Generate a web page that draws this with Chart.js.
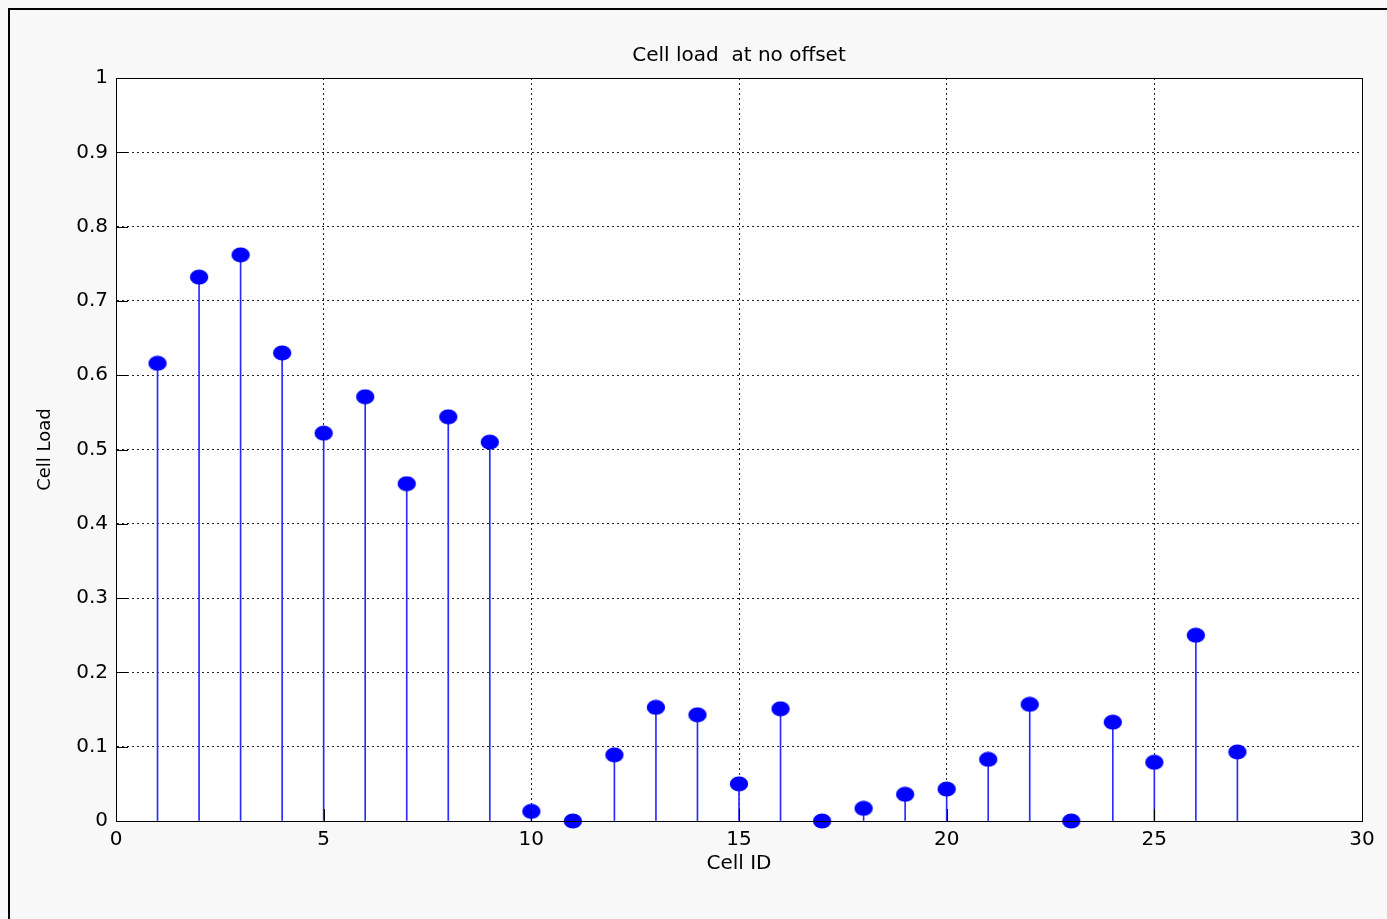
<!DOCTYPE html>
<html>
<head>
<meta charset="utf-8">
<script src="https://cdn.jsdelivr.net/npm/chart.js@4.4.1/dist/chart.umd.min.js"></script>
<style>
  html, body { margin: 0; padding: 0; background: #f8f8f8; }
  #wrap { position: absolute; left: 0; top: 0; width: 1387px; height: 919px; }
</style>
</head>
<body>
<div id="wrap"><canvas id="c" width="1387" height="919"></canvas></div>
<script>
// ---- data ----
const cellIds = [1,2,3,4,5,6,7,8,9,10,11,12,13,14,15,16,17,18,19,20,21,22,23,24,25,26,27];
const cellLoad = [0.616,0.732,0.762,0.630,0.522,0.571,0.454,0.544,0.510,0.013,0.000,0.089,0.153,0.143,0.050,0.151,0.000,0.017,0.036,0.043,0.083,0.157,0.000,0.133,0.079,0.250,0.093];
const xTicks = [0,5,10,15,20,25,30];
const yTicks = [0,0.1,0.2,0.3,0.4,0.5,0.6,0.7,0.8,0.9,1];
const titleText = 'Cell load  at no offset';
const xLabel = 'Cell ID';
const yLabel = 'Cell Load';

const points = cellIds.map((id, i) => ({ x: id, y: cellLoad[i] }));

// ellipse marker
const marker = document.createElement('canvas');
marker.width = 20; marker.height = 16;
{
  const m = marker.getContext('2d');
  m.fillStyle = '#0000ff';
  m.beginPath();
  m.ellipse(10, 8, 9.2, 7.4, 0, 0, Math.PI * 2);
  m.fill();
}

const FONT = "'DejaVu Sans', Verdana, sans-serif";
const FSIZE = 20;

const framePlugin = {
  id: 'frame',
  beforeDraw(chart) {
    const ctx = chart.ctx;
    const a = chart.chartArea;
    ctx.save();
    ctx.fillStyle = '#f8f8f8';
    ctx.fillRect(0, 0, chart.width, chart.height);
    ctx.strokeStyle = '#000';
    ctx.lineWidth = 2;
    ctx.beginPath();
    ctx.moveTo(9, chart.height + 5);
    ctx.lineTo(9, 9);
    ctx.lineTo(chart.width + 5, 9);
    ctx.stroke();
    ctx.fillStyle = '#ffffff';
    ctx.fillRect(a.left, a.top, a.right - a.left, a.bottom - a.top);
    // title centred over the plot area
    ctx.fillStyle = '#000';
    ctx.font = FSIZE + 'px ' + FONT;
    ctx.textAlign = 'center';
    ctx.textBaseline = 'middle';
    ctx.fillText(titleText, (a.left + a.right) / 2, 56);
    ctx.restore();
  },
  afterDatasetsDraw(chart) {
    const ctx = chart.ctx;
    const a = chart.chartArea;
    const xs = chart.scales.x, ys = chart.scales.y;
    ctx.save();
    ctx.strokeStyle = '#000';
    ctx.lineWidth = 1;
    ctx.beginPath();
    ctx.rect(Math.round(a.left) + 0.5, Math.round(a.top) + 0.5, Math.round(a.right - a.left), Math.round(a.bottom - a.top));
    const tl = 12;
    xTicks.forEach(v => {
      const px = Math.round(xs.getPixelForValue(v)) + 0.5;
      ctx.moveTo(px, a.bottom); ctx.lineTo(px, a.bottom - tl);
    });
    yTicks.forEach(v => {
      const py = Math.round(ys.getPixelForValue(v)) + 0.5;
      ctx.moveTo(a.left, py); ctx.lineTo(a.left + tl, py);
    });
    ctx.stroke();
    ctx.restore();
  }
};

new Chart(document.getElementById('c'), {
  data: {
    datasets: [
      {
        type: 'scatter',
        data: points,
        pointStyle: marker,
        pointRadius: 9,
        pointHoverRadius: 9,
        clip: false,
        order: 0
      },
      {
        type: 'bar',
        data: points,
        backgroundColor: '#2a2aff',
        borderWidth: 0,
        barThickness: 1,
        order: 1
      }
    ]
  },
  options: {
    responsive: false,
    animation: false,
    devicePixelRatio: 1,
    layout: { padding: { left: 0, right: 25, top: 78, bottom: 0 } },
    plugins: {
      legend: { display: false },
      tooltip: { enabled: false },
      title: { display: false }
    },
    scales: {
      x: {
        type: 'linear',
        min: 0, max: 30,
        offset: false,
        afterBuildTicks: s => { s.ticks = xTicks.map(v => ({ value: v })); },
        afterFit: s => { s.height = 98; },
        ticks: {
          color: '#000',
          font: { family: FONT, size: FSIZE },
          padding: 7,
          maxRotation: 0,
          callback: v => String(v)
        },
        grid: { color: '#222', lineWidth: 1, drawTicks: false, offset: false },
        border: { display: true, color: '#000', width: 1, dash: [2, 3] },
        title: {
          display: true,
          text: xLabel,
          color: '#000',
          font: { family: FONT, size: FSIZE },
          padding: { top: 4, bottom: 43 }
        }
      },
      y: {
        type: 'linear',
        min: 0, max: 1,
        afterBuildTicks: s => { s.ticks = yTicks.map(v => ({ value: v })); },
        afterFit: s => { s.width = 116; },
        ticks: {
          color: '#000',
          font: { family: FONT, size: FSIZE },
          padding: 8,
          callback: v => String(v)
        },
        grid: { color: '#222', lineWidth: 1, drawTicks: false },
        border: { display: true, color: '#000', width: 1, dash: [2, 3] },
        title: {
          display: true,
          text: yLabel,
          color: '#000',
          font: { family: FONT, size: 18 },
          padding: { top: 35, bottom: 4 }
        }
      }
    }
  },
  plugins: [framePlugin]
});
</script>
</body>
</html>
